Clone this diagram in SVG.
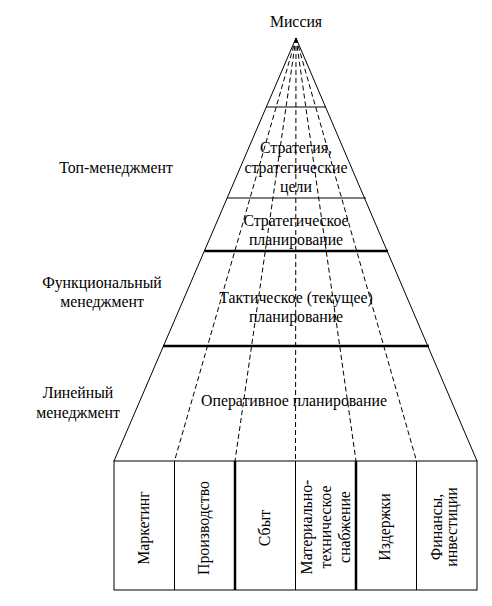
<svg xmlns="http://www.w3.org/2000/svg" width="492" height="606" viewBox="0 0 492 606">
<style>
text{font-family:"Liberation Serif","Times New Roman",serif;font-size:15.8px;fill:#000;text-anchor:middle}
.thin{stroke:#000;stroke-width:1;fill:none}
.thick{stroke:#000;stroke-width:2.5;fill:none}
.dash{stroke:#000;stroke-width:1;stroke-dasharray:5,3;fill:none}
</style>
<rect width="492" height="606" fill="#fff"/>
<g id="connectors">
<line class="dash" x1="296" y1="38" x2="174.5" y2="461"/>
<line class="dash" x1="296" y1="38" x2="235" y2="461"/>
<line class="dash" x1="296" y1="38" x2="295.5" y2="461"/>
<line class="dash" x1="296" y1="38" x2="356" y2="461"/>
<line class="dash" x1="296" y1="38" x2="416.5" y2="461"/>
</g>
<g id="pyramid">
<polyline class="thin" points="114,461 296,38 477,461"/>
<line class="thin" x1="266" y1="107" x2="326" y2="107"/>
<line class="thin" x1="227" y1="198" x2="366" y2="198"/>
<line class="thick" x1="204.5" y1="251" x2="388" y2="251"/>
<line class="thick" x1="163" y1="346" x2="429" y2="346"/>
</g>
<g id="mission"><text x="296" y="27">Миссия</text></g>
<g id="strategy"><text x="296" y="153">Стратегия,</text><text x="296" y="173">стратегические</text><text x="296" y="192">цели</text></g>
<g id="strategic-planning"><text x="296" y="226">Стратегическое</text><text x="296" y="245">планирование</text></g>
<g id="tactical-planning"><text x="296" y="303">Тактическое (текущее)</text><text x="296" y="322">планирование</text></g>
<g id="operative-planning"><text x="294" y="406">Оперативное планирование</text></g>
<g id="top-management"><text x="116" y="173">Топ-менеджмент</text></g>
<g id="functional-management"><text x="102" y="288">Функциональный</text><text x="102" y="307">менеджмент</text></g>
<g id="line-management"><text x="78" y="398">Линейный</text><text x="78" y="418">менеджмент</text></g>
<g id="boxes">
<rect class="thin" x="114" y="461" width="363" height="129"/>
<line class="thin" x1="174.5" y1="461" x2="174.5" y2="590"/>
<line class="thick" x1="235" y1="461" x2="235" y2="590"/>
<line class="thin" x1="295.5" y1="461" x2="295.5" y2="590"/>
<line class="thick" x1="356" y1="461" x2="356" y2="590"/>
<line class="thin" x1="416.5" y1="461" x2="416.5" y2="590"/>
</g>
<g id="marketing"><text transform="translate(149,528) rotate(-90)">Маркетинг</text></g>
<g id="production"><text transform="translate(209,528) rotate(-90)">Производство</text></g>
<g id="sales"><text transform="translate(270,528) rotate(-90)">Сбыт</text></g>
<g id="supply"><text transform="translate(312,527) rotate(-90)">Материально-</text><text transform="translate(331,527) rotate(-90)">техническое</text><text transform="translate(350,527) rotate(-90)">снабжение</text></g>
<g id="costs"><text transform="translate(390,527) rotate(-90)">Издержки</text></g>
<g id="finance"><text transform="translate(442,527) rotate(-90)">Финансы,</text><text transform="translate(457,527) rotate(-90)">инвестиции</text></g>
</svg>
